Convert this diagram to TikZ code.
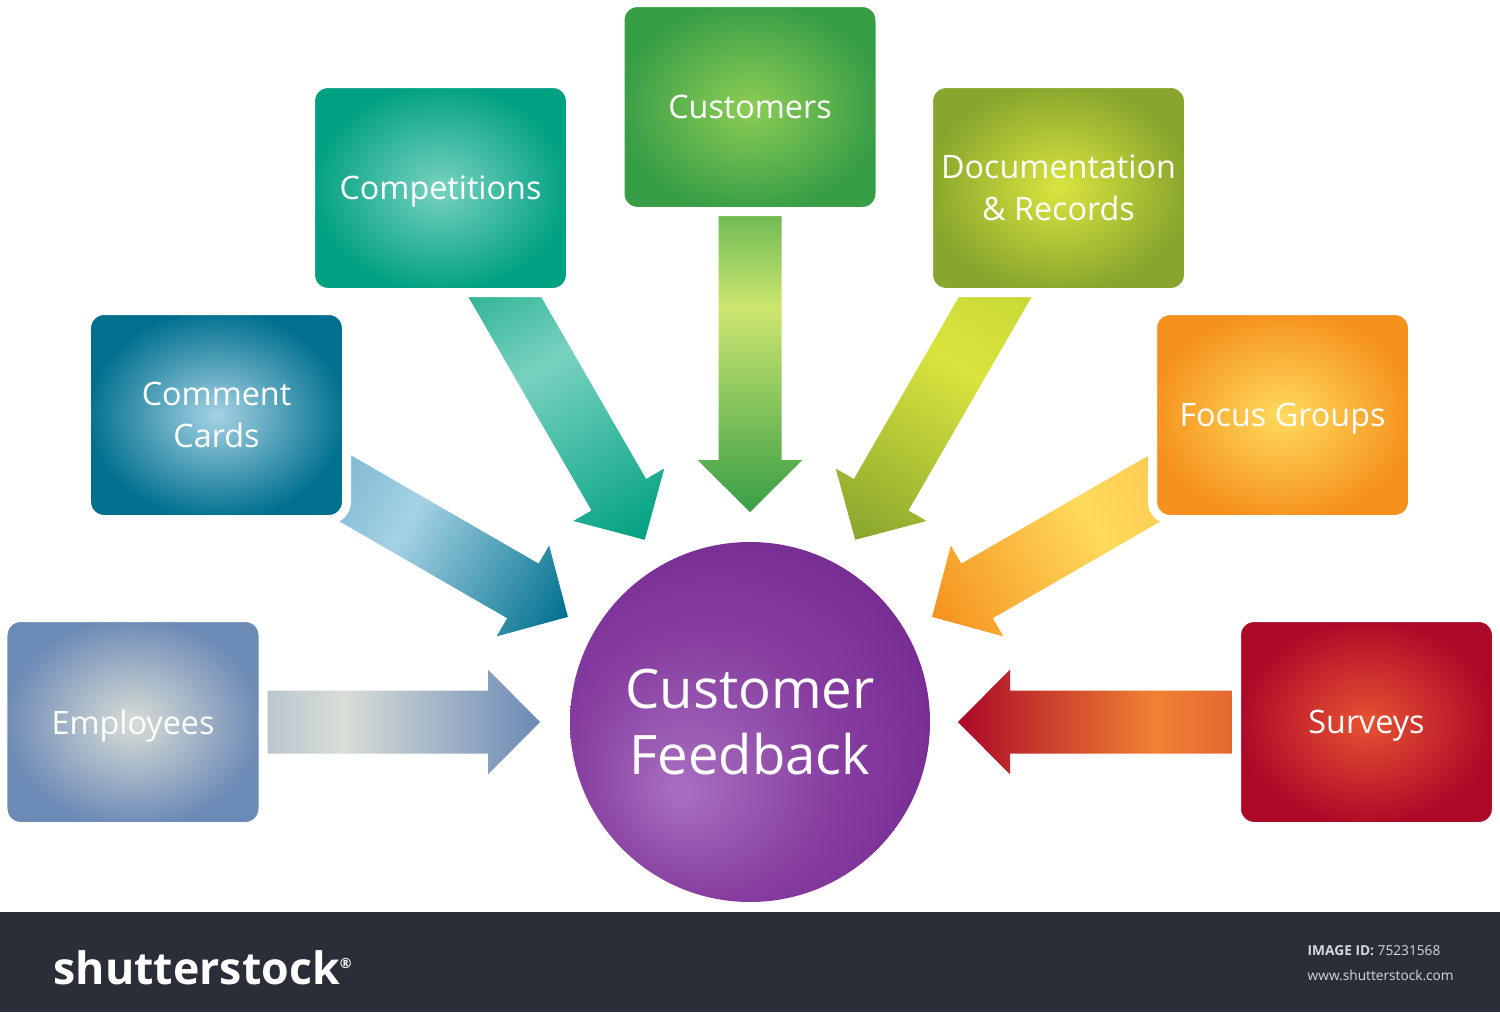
\documentclass[tikz,border=0pt]{standalone}
\usepackage{fontspec}
\setmainfont{Open Sans}
\usepackage{xcolor}
\definecolor{green-700}{RGB}{56,158,70}
\definecolor{green-600}{RGB}{88,175,76}
\definecolor{green-300}{RGB}{140,205,85}
\definecolor{lime-200}{RGB}{205,230,112}
\definecolor{teal-700}{RGB}{0,160,130}
\definecolor{teal-500}{RGB}{40,175,145}
\definecolor{teal-300}{RGB}{120,210,192}
\definecolor{olive-700}{RGB}{136,166,45}
\definecolor{olive-400}{RGB}{198,214,52}
\definecolor{olive-300}{RGB}{218,228,62}
\definecolor{cyan-800}{RGB}{0,112,142}
\definecolor{cyan-400}{RGB}{118,180,205}
\definecolor{cyan-200}{RGB}{165,210,228}
\definecolor{orange-600}{RGB}{245,146,30}
\definecolor{orange-300}{RGB}{250,200,80}
\definecolor{orange-200}{RGB}{255,218,92}
\definecolor{steel-600}{RGB}{108,138,182}
\definecolor{steel-300}{RGB}{172,186,204}
\definecolor{steel-100}{RGB}{216,221,214}
\definecolor{red-800}{RGB}{172,8,40}
\definecolor{red-500}{RGB}{222,92,50}
\definecolor{red-400}{RGB}{240,130,50}
\definecolor{red-300}{RGB}{232,82,50}
\definecolor{purple-800}{RGB}{116,40,144}
\definecolor{purple-600}{RGB}{135,62,160}
\definecolor{purple-400}{RGB}{168,112,192}
\definecolor{ink-900}{RGB}{42,46,57}
\definecolor{ink-200}{RGB}{214,216,222}
\usepackage{tikz}
\usetikzlibrary{calc}

\pgfdeclarelayer{paper}
\pgfdeclarelayer{flow}
\pgfsetlayers{paper,flow,main}

% Glow shadings for boxes, circle and arrows
\colorlet{glowin}{white}
\colorlet{glowout}{black}
\colorlet{arrowa}{white}
\colorlet{arrowb}{white}
\colorlet{arrowc}{black}
\pgfdeclareradialshading[glowin,glowout]{boxglow}{\pgfpointorigin}{%
  color(0bp)=(glowin); color(25bp)=(glowout); color(50bp)=(glowout)}
\pgfdeclareradialshading{ballglow}{\pgfpoint{-10bp}{-10bp}}{%
  color(0bp)=(purple-400); color(18bp)=(purple-600); color(34bp)=(purple-800); color(50bp)=(purple-800)}
\pgfdeclarehorizontalshading[arrowa,arrowb,arrowc]{flowshade}{100bp}{%
  color(0bp)=(arrowa); color(25bp)=(arrowa); color(43bp)=(arrowb); color(75bp)=(arrowc); color(100bp)=(arrowc)}

% Block arrow from #1 to #2, shaded #3 -> #4 -> #5
\newcommand{\flowarrow}[5]{%
  \path let \p1=(#1), \p2=($(#2)-(#1)$) in \pgfextra{%
    \pgfmathparse{atan2(\y2,\x2)}\xdef\arrowang{\pgfmathresult}%
    \pgfmathparse{veclen(\x2,\y2)}\xdef\arrowlen{\pgfmathresult}%
    \xdef\arrowx{\x1}\xdef\arrowy{\y1}};
  \begin{scope}[transform canvas={shift={(\arrowx,\arrowy)}, rotate=\arrowang}]
    \colorlet{arrowa}{#3}\colorlet{arrowb}{#4}\colorlet{arrowc}{#5}
    \shade[shading=flowshade]
      (0,-0.315) -- ({\arrowlen pt-0.52cm},-0.315) -- ({\arrowlen pt-0.52cm},-0.525)
      -- (\arrowlen pt,0) -- ({\arrowlen pt-0.52cm},0.525) -- ({\arrowlen pt-0.52cm},0.315)
      -- (0,0.315) -- cycle;
  \end{scope}}

\tikzset{
  srcbox/.style 2 args={
    /utils/exec={\colorlet{glowin}{#1}\colorlet{glowout}{#2}},
    shade, shading=boxglow, draw=white, line width=0.09cm, rounded corners=5pt,
    minimum width=2.60cm, minimum height=2.09cm, inner sep=0pt, text depth=0pt,
    text=white, align=center, font=\fontsize{9.2}{12}\selectfont
  },
}

\begin{document}
\begin{tikzpicture}

\useasboundingbox (0,0) rectangle (15,10.12);
\begin{pgfonlayer}{paper}
\fill[white] (0,0) rectangle (15,10.12);
\end{pgfonlayer}

% Central circle
\node[circle, shade, shading=ballglow, minimum size=3.6cm, inner sep=0pt,
      text=white, align=center, font=\fontsize{15.5}{18.8}\selectfont] (fb) at (7.5,2.9) {Customer\\Feedback};

% Source boxes
\node[srcbox={green-300}{green-700}] (cust) at (7.50,9.05) {Customers};
\node[srcbox={teal-300}{teal-700}] (comp) at (4.405,8.24) {Competitions};
\node[srcbox={olive-300}{olive-700}] (docs) at (10.585,8.24) {Documentation\\\& Records};
\node[srcbox={cyan-200}{cyan-800}] (comm) at (2.165,5.97) {Comment\\Cards};
\node[srcbox={orange-200}{orange-600}] (focus) at (12.825,5.97) {Focus Groups};
\node[srcbox={steel-100}{steel-600}] (emp) at (1.33,2.90) {Employees};
\node[srcbox={red-300}{red-800}] (surv) at (13.665,2.90) {Surveys};

% Arrow ends
\coordinate (cust-out) at ([yshift=-0.85cm]cust.center);
\coordinate (comp-out) at ([xshift=0.47cm, yshift=-0.79cm]comp.center);
\coordinate (docs-out) at ([xshift=-0.46cm, yshift=-0.79cm]docs.center);
\coordinate (comm-out) at ([xshift=0.995cm, yshift=-0.565cm]comm.center);
\coordinate (focus-out) at ([xshift=-0.985cm, yshift=-0.565cm]focus.center);
\coordinate (emp-out) at ([xshift=1.0cm]emp.center);
\coordinate (surv-out) at ([xshift=-1.0cm]surv.center);
\coordinate (cust-in) at ($(fb.center)+(90:2.1)$);
\coordinate (comp-in) at ($(fb.center)+(120:2.1)$);
\coordinate (docs-in) at ($(fb.center)+(60:2.1)$);
\coordinate (comm-in) at ($(fb.center)+(150:2.1)$);
\coordinate (focus-in) at ($(fb.center)+(30:2.1)$);
\coordinate (emp-in) at ($(fb.center)+(180:2.1)$);
\coordinate (surv-in) at ($(fb.center)+(0:2.08)$);

% Arrows (under the boxes)
\begin{pgfonlayer}{flow}
\flowarrow{cust-out}{cust-in}{green-600}{lime-200}{green-700}
\flowarrow{comp-out}{comp-in}{teal-500}{teal-300}{teal-700}
\flowarrow{docs-out}{docs-in}{olive-400}{olive-300}{olive-700}
\flowarrow{comm-out}{comm-in}{cyan-400}{cyan-200}{cyan-800}
\flowarrow{focus-out}{focus-in}{orange-300}{orange-200}{orange-600}
\flowarrow{emp-out}{emp-in}{steel-300}{steel-100}{steel-600}
\flowarrow{surv-out}{surv-in}{red-500}{red-400}{red-800}
\end{pgfonlayer}

% Footer bar
\fill[ink-900] (0,0) rectangle (15,1.0);
\node[font=\fontsize{12.7}{14}\selectfont\bfseries, text=white, inner sep=0pt, anchor=base west] (logo) at (0.53,0.28) {shutterstock\textsuperscript{\fontsize{4}{4}\selectfont ®}};
\node[font=\fontsize{3.9}{5}\selectfont, text=ink-200, inner sep=0pt, anchor=base west] (imgid) at (13.07,0.57) {\textbf{IMAGE ID:} 75231568};
\node[font=\fontsize{3.9}{5}\selectfont, text=ink-200, inner sep=0pt, anchor=base west] (www) at (13.07,0.32) {www.shutterstock.com};

\end{tikzpicture}
\end{document}
